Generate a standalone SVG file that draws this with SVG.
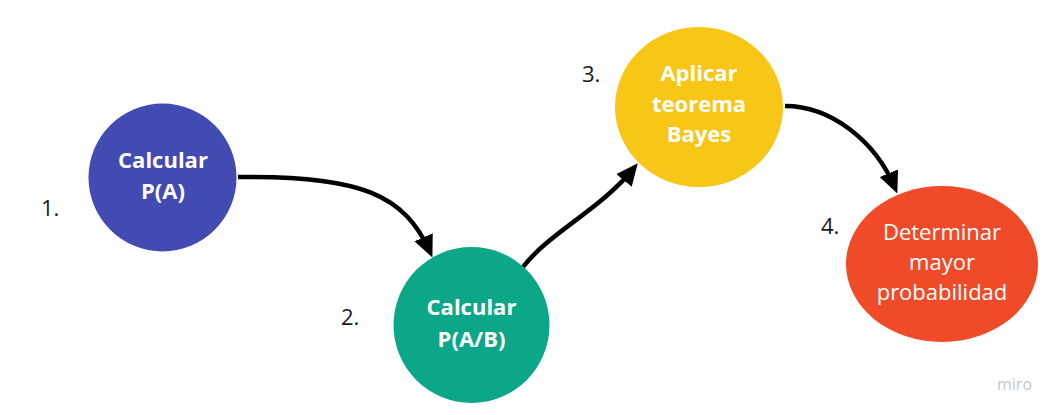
<svg xmlns="http://www.w3.org/2000/svg" width="1056" height="415" viewBox="0 0 1056 415">
  <style>
    .lbl { font-family: "Open Sans", "Liberation Sans", sans-serif; font-size: 22px; fill: #ffffff; text-anchor: middle; }
    .b { font-weight: 700; }
    .num { font-family: "Open Sans", "Liberation Sans", sans-serif; font-size: 22px; fill: #1a1a1a; }
    .edge { fill: none; stroke: #000000; stroke-width: 4.5; stroke-linecap: butt; }
  </style>
  <defs>
    <marker id="arrow" markerUnits="userSpaceOnUse" markerWidth="24" markerHeight="22" refX="16" refY="10" orient="auto">
      <path d="M0,0 L22,10 L0,20 z" fill="#000000"/>
    </marker>
  </defs>
  <rect width="1056" height="415" fill="#ffffff"/>

  <g id="connectors">
    <path class="edge" d="M238,177 C360,175 405,195 430,252" marker-end="url(#arrow)"/>
    <path class="edge" d="M523,267 C550,232 600,210 634,168" marker-end="url(#arrow)"/>
    <path class="edge" d="M785,106 C830,106 875,140 895,188" marker-end="url(#arrow)"/>
  </g>

  <g id="node1">
    <circle cx="162.5" cy="177.5" r="74" fill="#414bb2"/>
    <text class="lbl b" x="163" y="168">Calcular</text>
    <text class="lbl b" x="163" y="199">P(A)</text>
    <text class="num" x="41" y="216">1.</text>
  </g>

  <g id="node2">
    <circle cx="471.5" cy="325" r="78" fill="#0ca789"/>
    <text class="lbl b" x="471.5" y="315">Calcular</text>
    <text class="lbl b" x="471.5" y="347">P(A/B)</text>
    <text class="num" x="341" y="325">2.</text>
  </g>

  <g id="node3">
    <ellipse cx="699" cy="107" rx="84" ry="80" fill="#f8c617"/>
    <text class="lbl b" x="699" y="81">Aplicar</text>
    <text class="lbl b" x="699" y="112">teorema</text>
    <text class="lbl b" x="699" y="142">Bayes</text>
    <text class="num" x="582" y="82">3.</text>
  </g>

  <g id="node4">
    <ellipse cx="942" cy="264" rx="96" ry="78" fill="#f04b28"/>
    <text class="lbl" x="942" y="240">Determinar</text>
    <text class="lbl" x="942" y="270">mayor</text>
    <text class="lbl" x="942" y="300">probabilidad</text>
    <text class="num" x="821" y="234">4.</text>
  </g>

  <text x="1032" y="390" font-family="'Open Sans', 'Liberation Sans', sans-serif" font-size="16" fill="#c4c6d0" text-anchor="end">miro</text>
</svg>
